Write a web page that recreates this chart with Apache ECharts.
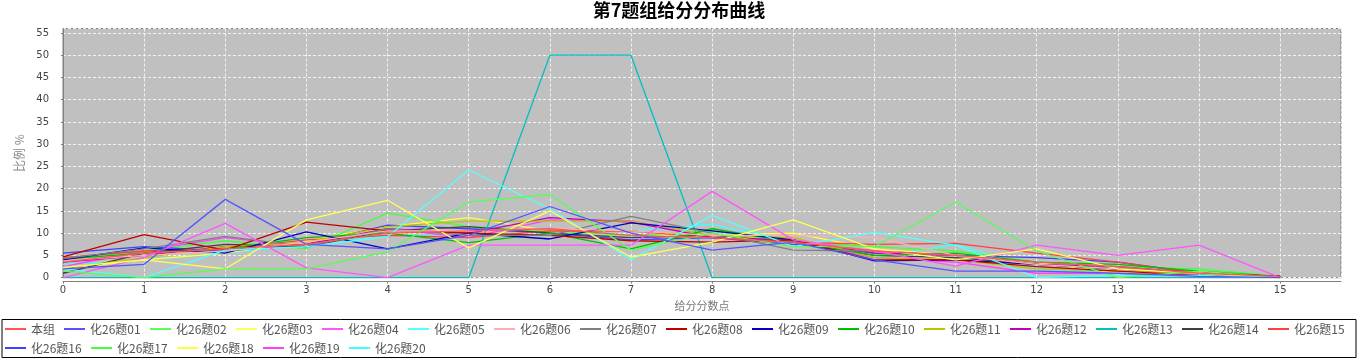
<!DOCTYPE html>
<html><head><meta charset="utf-8">
<script src="https://cdn.jsdelivr.net/npm/echarts@6/dist/echarts.min.js"></script>
<style>html,body{margin:0;padding:0;background:#fff}#c{width:1358px;height:358px}</style>
</head><body><div id="c"></div>
<script>
// ---------- data ----------
const chartTitle = '第7题组给分分布曲线';
const xAxisName = '给分分数点';
const yAxisName = '比例 %';
const scorePoints = [0, 1, 2, 3, 4, 5, 6, 7, 8, 9, 10, 11, 12, 13, 14, 15];
const seriesNames = ['本组', '化26题01', '化26题02', '化26题03', '化26题04', '化26题05', '化26题06',
  '化26题07', '化26题08', '化26题09', '化26题10', '化26题11', '化26题12', '化26题13', '化26题14',
  '化26题15', '化26题16', '化26题17', '化26题18', '化26题19', '化26题20'];

const groupAll = [3.5, 5.5, 6.5, 7.5, 10, 10.5, 11, 9.5, 9, 8, 6, 5, 3.5, 2.5, 1, 0.3];
const q01 = [2, 3, 17.6, 7.5, 6.5, 9.5, 16, 10, 6.2, 8, 4, 1.5, 1.5, 1, 0.3, 0];
const q02 = [1.5, 0, 2, 2, 5.8, 17, 18.7, 6.2, 10, 7, 7, 17, 6, 0, 1.5, 0];
const q03 = [2.3, 4, 2, 13, 17.4, 6.7, 15, 4.6, 8, 13, 6.5, 4, 6.5, 2, 1, 0];
const q04 = [0, 4.5, 12.2, 2.2, 0, 7.3, 7.3, 7.3, 19.4, 8.5, 6, 2.6, 7.3, 5, 7.3, 0];
const q05 = [2, 0, 6.2, 7, 9.2, 24.2, 15.5, 4, 14, 7, 10.2, 7.3, 0, 0.5, 0.5, 0];
const q06 = [3.8, 5, 6, 8, 10.5, 10.5, 11, 10.5, 9.5, 9.5, 9, 5, 3, 2, 1, 0];
const q07 = [4.3, 6.5, 9.3, 7, 11, 9.5, 9.5, 13.8, 10, 6.2, 6, 5, 3, 2, 1, 0];
const q08 = [4.7, 9.7, 6.2, 12.5, 10.5, 10, 9.5, 8.3, 8, 8.5, 4, 4, 2.5, 1.5, 0.5, 0.3];
const q09 = [4, 6.7, 5.5, 10.3, 6.5, 10, 8.7, 12.3, 10.5, 8.5, 3.8, 4, 3, 2, 1, 0.3];
const q10 = [4.2, 5.5, 6.5, 9, 10, 7.9, 10, 6.5, 11, 8, 5, 5.5, 3.5, 3, 1.5, 0.3];
const q11 = [2, 4.5, 7, 8, 11.5, 12.7, 12.7, 12.7, 9.5, 9, 4.5, 4, 2, 1.5, 1, 0.3];
const q12 = [3.5, 5, 7, 7.5, 11, 10, 13.5, 12.5, 9, 8.5, 5.5, 5, 3, 2.5, 1, 0.3];
const q13 = [0, 0, 0, 0, 0, 0, 50, 50, 0, 0, 0, 0, 0, 0, 0, 0];
const q14 = [1, 5.5, 7.5, 7, 10.5, 11.5, 10, 9, 9.5, 8, 5, 4.5, 3, 2, 1, 0.3];
const q15 = [4.5, 6, 6.5, 8.5, 9.5, 9, 10.5, 10.5, 9, 8, 7.5, 7.7, 5.5, 3.5, 1, 0.3];
const q16 = [5.5, 7, 6, 7.5, 11.8, 11, 10, 8.5, 9, 7.5, 5.5, 5, 4.5, 3.5, 1, 0.3];
const q17 = [4.5, 6, 8.3, 6.5, 14.5, 11.5, 10.5, 9.5, 10.5, 8, 7, 6, 3.5, 2.5, 2, 0.3];
const q18 = [2, 4, 5.5, 8.3, 11.5, 13.5, 10.5, 9.5, 9.5, 10, 6.5, 5, 3.5, 1, 1.5, 0];
const q19 = [2.5, 6, 9, 7, 11, 9, 13, 12.8, 9, 8, 4.5, 3.5, 1, 1, 0.5, 0];
const q20 = [3, 4, 5.5, 7.5, 9.5, 10, 9.5, 10.5, 12, 8, 4.5, 7.5, 2, 1, 0.5, 0];

const seriesValues = [groupAll, q01, q02, q03, q04, q05, q06, q07, q08, q09, q10,
  q11, q12, q13, q14, q15, q16, q17, q18, q19, q20];

// ---------- styles ----------
const palette = ['#FF5555', '#5555FF', '#55FF55', '#FFFF55', '#FF55FF', '#55FFFF', '#FFAFAF',
  '#808080', '#C00000', '#0000C0', '#00C000', '#C0C000', '#C000C0', '#00C0C0', '#404040',
  '#FF4040', '#4040FF', '#40FF40', '#FFFF40', '#FF40FF', '#40FFFF'];

const cjk = '"Noto Sans CJK SC", sans-serif';
const num = '"DejaVu Sans", sans-serif';

const series = seriesNames.map((name, i) => ({
  name: name,
  type: 'line',
  data: scorePoints.map((x, j) => [x, seriesValues[i][j]]),
  showSymbol: false,
  symbol: 'none',
  lineStyle: { width: 1.3, color: palette[i] },
  itemStyle: { color: palette[i] },
  z: 2 + (seriesNames.length - i) * 0.01
})).reverse();

const chart = echarts.init(document.getElementById('c'), null, { renderer: 'canvas' });
chart.setOption({
  animation: false,
  backgroundColor: '#ffffff',
  title: {
    text: chartTitle,
    left: 'center',
    top: 1,
    padding: 0,
    textStyle: { fontFamily: cjk, fontSize: 18, fontWeight: 'bold', color: '#000', lineHeight: 19 }
  },
  legend: {
    left: 2,
    top: 319.5,
    width: 1345,
    orient: 'horizontal',
    padding: [3.5, 9, 3.5, 3],
    borderColor: '#000',
    borderWidth: 1,
    itemGap: 7,
    itemWidth: 21,
    itemHeight: 2,
    icon: 'rect',
    textStyle: { fontFamily: cjk, fontSize: 12, color: '#555', lineHeight: 11 },
    data: seriesNames.map((n, i) => ({
      name: n,
      textStyle: { width: i === 0 ? 26 : 53 }
    }))
  },
  grid: {
    left: 63, right: 17, top: 28.5, bottom: 80.3,
    show: true,
    backgroundColor: '#C0C0C0',
    borderColor: '#808080',
    borderWidth: 1
  },
  xAxis: {
    type: 'value',
    min: 0, max: 15.75, interval: 1,
    offset: 4,
    name: xAxisName,
    nameLocation: 'middle',
    nameGap: 17,
    nameTextStyle: { fontFamily: cjk, fontSize: 11, color: '#777' },
    axisLine: { show: true, onZero: false, lineStyle: { color: '#808080', width: 1 } },
    axisTick: { show: true, length: 2, lineStyle: { color: '#808080' } },
    axisLabel: { margin: 4, fontFamily: num, fontSize: 10, color: '#444', showMaxLabel: false },
    splitLine: { show: true, lineStyle: { color: '#f2f2f2', width: 1, type: [3, 2] } }
  },
  yAxis: {
    type: 'value',
    min: 0, max: 56, interval: 5,
    offset: 4,
    name: yAxisName,
    nameLocation: 'middle',
    nameRotate: 90,
    nameGap: 26,
    nameTextStyle: { fontFamily: cjk, fontSize: 12, color: '#888' },
    axisLine: { show: true, lineStyle: { color: '#808080', width: 1 } },
    axisTick: { show: true, length: 2, lineStyle: { color: '#808080' } },
    axisLabel: { margin: 10, fontFamily: num, fontSize: 10, color: '#444', showMaxLabel: false },
    splitLine: { show: true, lineStyle: { color: '#f2f2f2', width: 1, type: [3, 2] } }
  },
  series: series
});
</script>
</body></html>
